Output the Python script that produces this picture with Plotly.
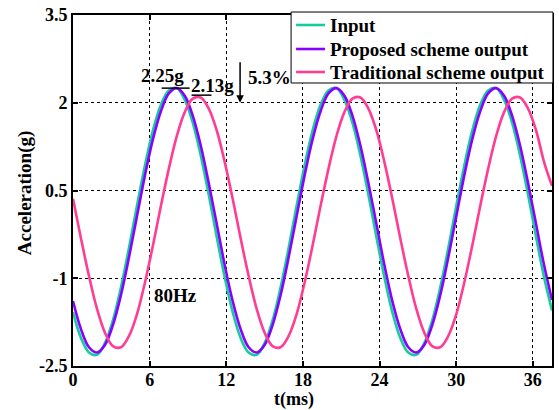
import plotly.graph_objects as go

# sampling times (ms)
time_ms = [0, 0.625, 1.25, 1.875, 2.5, 3.125, 3.75, 4.375, 5, 5.625, 6.25, 6.875, 7.5, 8.125,
           8.75, 9.375, 10, 10.625, 11.25, 11.875, 12.5, 13.125, 13.75, 14.375, 15, 15.625,
           16.25, 16.875, 17.5, 18.125, 18.75, 19.375, 20, 20.625, 21.25, 21.875, 22.5, 23.125,
           23.75, 24.375, 25, 25.625, 26.25, 26.875, 27.5, 28.125, 28.75, 29.375, 30, 30.625,
           31.25, 31.875, 32.5, 33.125, 33.75, 34.375, 35, 35.625, 36.25, 36.875, 37.5]

input_g = [-1.58, -2.02, -2.27, -2.31, -2.11, -1.72, -1.16, -0.49, 0.23, 0.92, 1.52, 1.96, 2.21, 2.25, 2.05, 1.66, 1.10, 0.43, -0.29, -0.98,
           -1.58, -2.02, -2.27, -2.31, -2.11, -1.72, -1.16, -0.49, 0.23, 0.92, 1.52, 1.96, 2.21, 2.25, 2.05, 1.66, 1.10, 0.43, -0.29, -0.98,
           -1.58, -2.02, -2.27, -2.31, -2.11, -1.72, -1.16, -0.49, 0.23, 0.92, 1.52, 1.96, 2.21, 2.25, 2.05, 1.66, 1.10, 0.43, -0.29, -0.98,
           -1.55]

proposed_g = [-1.39, -1.87, -2.18, -2.27, -2.14, -1.80, -1.29, -0.65, 0.05, 0.75, 1.37, 1.85, 2.16, 2.25, 2.12, 1.78, 1.27, 0.63, -0.07, -0.77,
              -1.39, -1.87, -2.18, -2.27, -2.14, -1.80, -1.29, -0.65, 0.05, 0.75, 1.37, 1.85, 2.16, 2.25, 2.12, 1.78, 1.27, 0.63, -0.07, -0.77,
              -1.39, -1.87, -2.18, -2.27, -2.14, -1.80, -1.29, -0.65, 0.05, 0.75, 1.37, 1.85, 2.16, 2.25, 2.12, 1.78, 1.27, 0.63, -0.07, -0.77,
              -1.37]

traditional_g = [0.36, -0.32, -0.96, -1.52, -1.93, -2.16, -2.18, -1.99, -1.62, -1.08, -0.45, 0.23, 0.87, 1.43, 1.84, 2.07, 2.09, 1.90, 1.53, 0.99,
                 0.36, -0.32, -0.96, -1.52, -1.93, -2.16, -2.18, -1.99, -1.62, -1.08, -0.45, 0.23, 0.87, 1.43, 1.84, 2.07, 2.09, 1.90, 1.53, 0.99,
                 0.36, -0.32, -0.96, -1.52, -1.93, -2.16, -2.18, -1.99, -1.62, -1.08, -0.45, 0.23, 0.87, 1.43, 1.84, 2.07, 2.09, 1.90, 1.53, 0.99,
                 0.58]

series_names = ["Input", "Proposed scheme output", "Traditional scheme output"]
series_colors = ["#14CC9C", "#8A00FF", "#FF3D94"]

x_ticks = [0, 6, 12, 18, 24, 30, 36]
y_ticks = [-2.5, -1, 0.5, 2, 3.5]
y_ticktext = ["-2.5", "-1", "0.5", "2", "3.5"]

FONT = "Liberation Serif"
FS = 19

fig = go.Figure()
for name, ys, col in zip(series_names, [input_g, proposed_g, traditional_g], series_colors):
    fig.add_trace(go.Scatter(x=time_ms, y=ys, mode="lines", name=name, showlegend=False,
                             line=dict(color=col, width=2.6, shape="spline", smoothing=1)))

axis_common = dict(showline=True, linecolor="black", linewidth=2, mirror="ticks",
                   ticks="inside", ticklen=5, tickwidth=1.5, tickcolor="black",
                   showgrid=True, gridcolor="black", griddash="dot", gridwidth=1,
                   zeroline=False,
                   tickfont=dict(family=FONT, size=18, color="black", weight="bold"))

fig.update_layout(
    width=559, height=410,
    margin=dict(l=73, r=5, t=15, b=44),
    paper_bgcolor="white", plot_bgcolor="white",
    xaxis=dict(range=[0, 37.5], tickvals=x_ticks, ticklabelstandoff=-4, **axis_common),
    yaxis=dict(range=[-2.5, 3.5], tickvals=y_ticks, ticktext=y_ticktext, **axis_common),
    showlegend=False,
)

txt = dict(family=FONT, size=FS, color="black", weight="bold")

# legend box (drawn by hand to match the original's compact layout)
fig.add_shape(type="rect", xref="paper", yref="paper", x0=0.4553, x1=1.002, y0=0.8063, y1=1.0085,
              line=dict(color="black", width=1), fillcolor="white", layer="above")
legend_rows = [0.9715, 0.9031, 0.8376]
for name, col, ry in zip(series_names, series_colors, legend_rows):
    fig.add_shape(type="line", xref="paper", yref="paper", x0=0.4657, x1=0.5260, y0=ry, y1=ry,
                  line=dict(color=col, width=2.6), layer="above")
    fig.add_annotation(x=0.5322, y=ry, xref="paper", yref="paper", text=name, showarrow=False,
                       font=txt, xanchor="left", yanchor="middle")

fig.add_annotation(x=0.4615, y=-0.131, xref="paper", yref="paper", text="t(ms)",
                   showarrow=False, font=dict(family=FONT, size=18, color="black", weight="bold"),
                   xanchor="center", yanchor="bottom")
fig.add_annotation(x=-0.0998, y=0.493, xref="paper", yref="paper", text="Acceleration(g)",
                   showarrow=False, font=txt, textangle=-90, xanchor="center", yanchor="middle")
fig.add_annotation(x=7.02, y=2.47, text="2.25g", showarrow=False, font=txt)
fig.add_annotation(x=10.92, y=2.30, text="2.13g", showarrow=False, font=txt)
fig.add_annotation(x=13.57, y=2.44, text="5.3%", showarrow=False, font=txt, xanchor="left")
fig.add_annotation(x=8.03, y=-1.30, text="80Hz", showarrow=False, font=txt)
fig.add_annotation(x=13.08, y=2.0, ax=13.08, ay=2.72, axref="x", ayref="y", text="",
                   showarrow=True, arrowhead=2, arrowsize=1, arrowwidth=1.5, arrowcolor="black")
fig.add_shape(type="line", x0=6.94, x1=9.13, y0=2.25, y1=2.25, line=dict(color="black", width=1.5))
fig.add_shape(type="line", x0=9.28, x1=10.84, y0=2.13, y1=2.13, line=dict(color="black", width=1.5))

fig.write_html("out.html")
